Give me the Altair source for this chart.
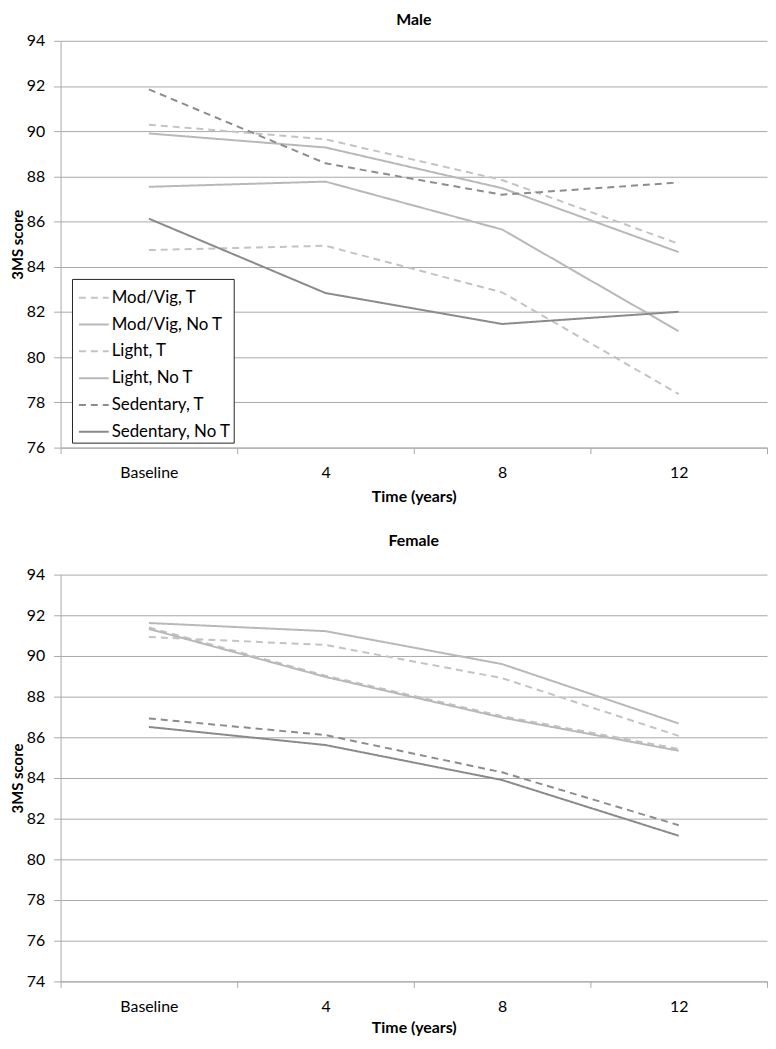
import altair as alt
import pandas as pd

# ---- data ----
times = ["Baseline", "4", "8", "12"]
series = ["Mod/Vig, T", "Mod/Vig, No T", "Light, T", "Light, No T",
          "Sedentary, T", "Sedentary, No T"]

male_modvig_t = [90.29, 89.64, 87.84, 85.02]
male_modvig_not = [89.90, 89.28, 87.48, 84.65]
male_light_t = [84.74, 84.93, 82.87, 78.37]
male_light_not = [87.54, 87.77, 85.65, 81.15]
male_sed_t = [91.85, 88.58, 87.19, 87.73]
male_sed_not = [86.13, 82.84, 81.47, 82.01]

female_modvig_t = [90.93, 90.54, 88.91, 86.07]
female_modvig_not = [91.62, 91.22, 89.60, 86.68]
female_light_t = [91.40, 89.03, 87.04, 85.43]
female_light_not = [91.33, 88.97, 86.97, 85.34]
female_sed_t = [86.93, 86.11, 84.28, 81.68]
female_sed_not = [86.51, 85.62, 83.90, 81.16]

colors = ["#c3c3c3", "#b8b8b8", "#c3c3c3", "#b8b8b8", "#8c8c8c", "#8a8a8a"]
dashes = [[7, 5], [1, 0], [7, 5], [1, 0], [7, 5], [1, 0]]

male = [male_modvig_t, male_modvig_not, male_light_t, male_light_not, male_sed_t, male_sed_not]
female = [female_modvig_t, female_modvig_not, female_light_t, female_light_not, female_sed_t, female_sed_not]


def make_df(values):
    rows = []
    for s, vals in zip(series, values):
        for i, (t, v) in enumerate(zip(times, vals)):
            rows.append({"series": s, "time": t, "idx": i, "score": v})
    return pd.DataFrame(rows)


FONT = "Lato"
FS = 16
GRID = "#a8a8a8"


def panel(values, title, ymin, show_legend, title_offset, xtitle_pad):
    df = make_df(values)
    if show_legend:
        leg = alt.Legend(title=None, orient="none", legendX=11.5, legendY=240,
                         direction="vertical", strokeColor="#222222", fillColor="white",
                         padding=3, symbolType="stroke", symbolSize=900,
                         symbolStrokeWidth=2, symbolOffset=3, labelFontSize=17,
                         labelFont=FONT, labelColor="black", rowPadding=3,
                         labelOffset=2, labelLimit=300)
    else:
        leg = None
    return alt.Chart(df).mark_line(strokeWidth=2).encode(
        x=alt.X("time:N", sort=times,
                scale=alt.Scale(type="band", paddingInner=0, paddingOuter=0),
                axis=alt.Axis(title="Time (years)", tickBand="extent", labelAngle=0,
                              grid=False, tickSize=6, labelPadding=11,
                              titlePadding=xtitle_pad,
                              domainColor=GRID, tickColor=GRID)),
        y=alt.Y("score:Q", scale=alt.Scale(domain=[ymin, 94], nice=False, zero=False),
                axis=alt.Axis(values=list(range(ymin, 95, 2)), title="3MS score",
                              titleFontSize=15, grid=True, gridColor=GRID, tickSize=7,
                              labelPadding=9, titlePadding=1, domainColor=GRID,
                              tickColor=GRID)),
        color=alt.Color("series:N", sort=series,
                        scale=alt.Scale(domain=series, range=colors), legend=leg),
        strokeDash=alt.StrokeDash("series:N", sort=series,
                                  scale=alt.Scale(domain=series, range=dashes), legend=leg),
        order=alt.Order("idx:Q"),
    ).properties(
        width=712, height=410,
        title=alt.TitleParams(title, font=FONT, fontSize=FS, fontWeight="bold",
                              anchor="middle", offset=title_offset, color="black"),
    )


top = panel(male, "Male", 76, True, 5, 8)
bottom = panel(female, "Female", 74, False, 18, 6)

chart = alt.vconcat(top, bottom, spacing=29).resolve_scale(
    color="independent", strokeDash="independent", x="independent", y="independent"
).resolve_legend(color="independent", strokeDash="independent").configure_view(
    stroke=None
).configure_axis(
    labelFont=FONT, labelFontSize=FS, labelColor="black",
    titleFont=FONT, titleFontSize=FS, titleFontWeight="bold", titleColor="black",
    domainWidth=1, tickWidth=1, gridWidth=1,
).properties(padding={"left": 2, "top": 0, "right": 0, "bottom": 0})

chart.save("out.html", embed_options={"renderer": "svg", "actions": False})
